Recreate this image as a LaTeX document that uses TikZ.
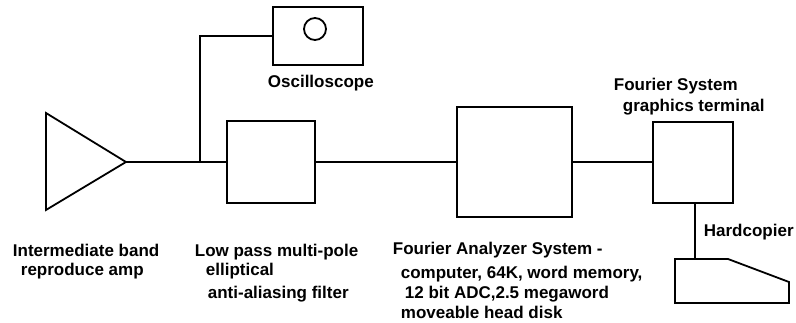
\documentclass[tikz,border=0pt]{standalone}
\usepackage{fontspec}
\setmainfont{Liberation Sans}
\tikzset{
  unit/.style={draw, line width=1.8pt, inner sep=0pt},
  lbl/.style={anchor=base west, inner sep=0pt, font=\fontsize{17}{20}\selectfont\bfseries}
}
\begin{document}
\begin{tikzpicture}[x=1pt, y=-1pt, line width=1.8pt]
    \useasboundingbox (0,0) rectangle (796,323);
    % amplifier
    \draw [line join=miter] (46,113) -- (126,162) -- (46,210) -- cycle;
    \coordinate (amp) at (126,162);
    \coordinate (tap) at (200,162);
    % units
    \node [unit, minimum width=90, minimum height=58] (scope) at (318,36) {};
    \draw (315,29) circle [radius=11];
    \node [unit, minimum width=88, minimum height=82] (filter) at (271,162) {};
    \node [unit, minimum width=115, minimum height=110] (fas) at (514.5,162) {};
    \node [unit, minimum width=80, minimum height=81] (term) at (693,162.5) {};
    \draw [line join=miter] (675,259) -- (728,259) -- (789,282) -- (789,303) -- (675,303) -- cycle;
    \coordinate (copier) at (695,259);
    % connections
    \draw (amp) -- (filter.west);
    \draw (tap) |- (scope.west);
    \draw (filter.east) -- (fas.west);
    \draw (fas.east) -- (term.west |- fas.east);
    \draw (term.south -| copier) -- (copier);
    % labels
    \node [lbl] (scopelbl) at (267,88) {Oscilloscope};
    \node [lbl] (amplbl1) at (12,257) {Intermediate band};
    \node [lbl] (amplbl2) at (20,276) {reproduce amp};
    \node [lbl] (filtlbl1) at (194,257) {Low pass multi-pole};
    \node [lbl] (filtlbl2) at (205,276) {elliptical};
    \node [lbl] (filtlbl3) at (207,299) {anti-aliasing filter};
    \node [lbl] (faslbl1) at (392,255) {Fourier Analyzer System -};
    \node [lbl] (faslbl2) at (400,279) {computer, 64K, word memory,};
    \node [lbl] (faslbl3) at (404,299) {12 bit ADC,2.5 megaword};
    \node [lbl] (faslbl4) at (400,319) {moveable head disk};
    \node [lbl] (termlbl1) at (613,91) {Fourier System};
    \node [lbl] (termlbl2) at (622,112) {graphics terminal};
    \node [lbl] (copierlbl) at (703,237) {Hardcopier};
\end{tikzpicture}
\end{document}
